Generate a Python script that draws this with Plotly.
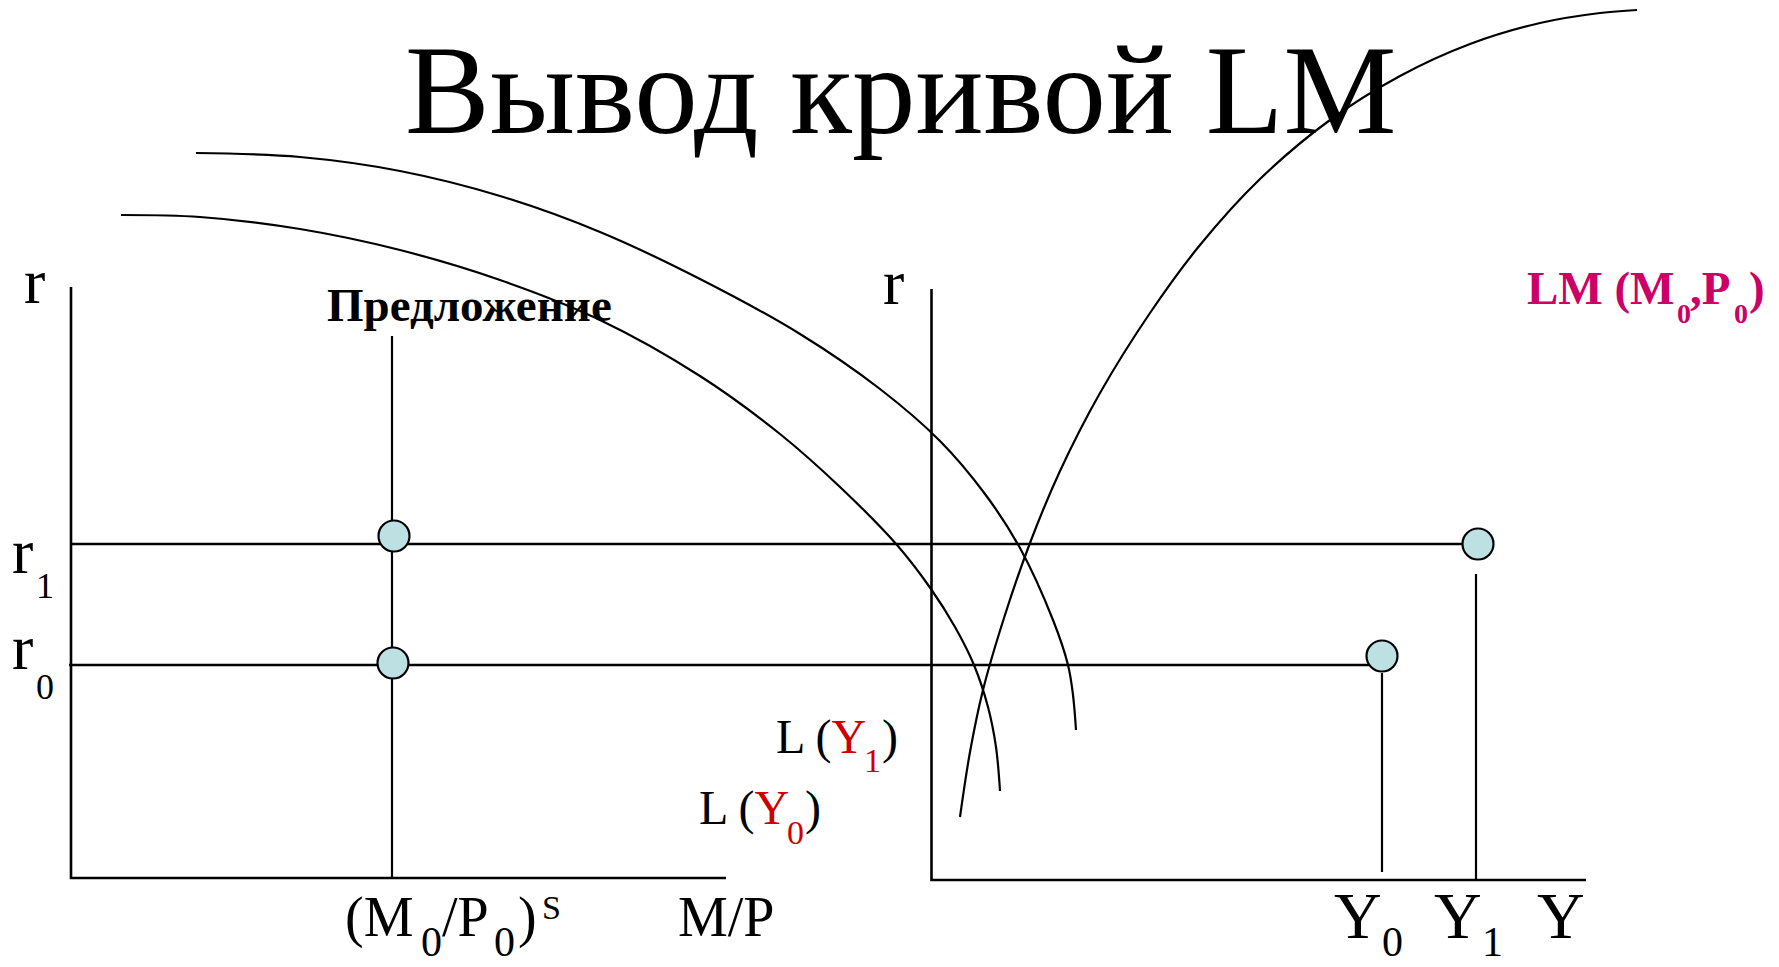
import plotly.graph_objects as go

W, H = 1779, 967
FONT = 'Liberation Serif'
OFF = 8  # page body margin, compensated in the axis ranges

# diagram units: x to the right, y downward (slide scale)
r1, r0 = 544, 665

# liquidity preference curves L(Y1), L(Y0) and the LM curve
ly1_x = [196, 300, 400, 500, 600, 700, 800, 880, 940, 985, 1020, 1053, 1068, 1073, 1076]
ly1_y = [153, 157, 171, 196, 232, 279, 334, 389, 441, 494, 548, 620, 665, 695, 730]

ly0_x = [121, 200, 300, 400, 500, 600, 700, 780, 840, 897, 931, 955, 974, 988, 996, 1000]
ly0_y = [215, 217, 229, 250, 280, 320, 376, 434, 487, 545, 589, 627, 665, 707, 747, 791]

lm_x = [960, 970, 983, 1004, 1030, 1060, 1100, 1150, 1200, 1260, 1330, 1400, 1470, 1540, 1600, 1637]
lm_y = [817, 752, 690, 618, 543, 471, 393, 313, 245, 179, 120, 76, 44, 23, 13, 10]

# axes of both panels
left_axis_x = [71, 71, 726]
left_axis_y = [287, 878, 878]
right_axis_x = [931.5, 931.5, 1586]
right_axis_y = [289, 880, 880]

supply_x = [392, 392]
supply_y = [336, 878]

y0_line_x = [1382, 1382]
y0_line_y = [673, 872]
y1_line_x = [1476, 1476]
y1_line_y = [574, 880]

r1_line_x = [71, 1470]
r0_line_x = [69, 1378]

# equilibrium points
pt_x = [394, 393, 1478, 1382]
pt_y = [536, 663, 544, 656]

fig = go.Figure()


def line(x, y, w=2.2, spline=False):
    fig.add_trace(go.Scatter(
        x=x, y=y, mode='lines', hoverinfo='skip',
        line=dict(color='black', width=w, shape='spline' if spline else 'linear', smoothing=1.0),
    ))


line(left_axis_x, left_axis_y, 2.6)
line(right_axis_x, right_axis_y, 2.6)
line(supply_x, supply_y, 2.2)
line(r1_line_x, [r1, r1], 2.6)
line(r0_line_x, [r0, r0], 2.6)
line(y0_line_x, y0_line_y, 2.2)
line(y1_line_x, y1_line_y, 2.2)
line(ly1_x, ly1_y, 2.2, spline=True)
line(ly0_x, ly0_y, 2.2, spline=True)
line(lm_x, lm_y, 2.2, spline=True)

fig.add_trace(go.Scatter(
    x=pt_x, y=pt_y, mode='markers', hoverinfo='skip',
    marker=dict(size=31, color='#BDE0E3', line=dict(color='black', width=2.2)),
))


def put(text, x, baseline, size, color='black', bold=False, anchor='left'):
    if bold:
        text = '<b>' + text + '</b>'
    fig.add_annotation(
        x=x, y=baseline - 0.32 * size, text=text, showarrow=False,
        xanchor=anchor, yanchor='middle', borderpad=0,
        font=dict(family=FONT, size=size, color=color),
    )


RED = '#CC0000'
MAG = '#CC0066'

put('Вывод кривой LM', 900, 131, 127, anchor='center')

# r labels
put('r', 34, 302, 64, anchor='center')
put('r', 893, 303, 64, anchor='center')
put('r', 22.5, 572, 64, anchor='center')
put('1', 44.5, 598, 36, anchor='center')
put('r', 22.5, 668, 64, anchor='center')
put('0', 44.5, 699, 36, anchor='center')

put('Предложение', 469, 320, 47, bold=True, anchor='center')

# (M0/P0)^S and M/P
put('(M', 344, 935, 56)
put('0', 431, 955, 42, anchor='center')
put('/P', 441, 935, 56)
put('0', 504, 955, 42, anchor='center')
put(')', 517, 935, 56)
put('S', 541, 918, 34)
put('M/P', 677, 935, 56)

# Y labels
put('Y', 1333, 937, 66)
put('0', 1392, 955, 42, anchor='center')
put('Y', 1433, 937, 66)
put('1', 1492, 955, 42, anchor='center')
put('Y', 1536, 937, 66)

# L(Y1), L(Y0)
put('L (<span style="color:%s">Y</span>' % RED, 775, 752, 48)
put('1', 872, 771, 34, color=RED, anchor='center')
put(')', 881, 752, 48)
put('L (<span style="color:%s">Y</span>' % RED, 698, 823, 48)
put('0', 795, 843, 34, color=RED, anchor='center')
put(')', 804, 823, 48)

# LM (M0,P0)
put('LM (M', 1526, 303, 47, color=MAG, bold=True)
put('0', 1676, 322, 28, color=MAG, bold=True)
put(',P', 1689, 303, 47, color=MAG, bold=True)
put('0', 1733, 322, 28, color=MAG, bold=True)
put(')', 1748, 303, 47, color=MAG, bold=True)

fig.update_layout(
    width=W, height=H,
    margin=dict(l=0, r=0, t=0, b=0),
    paper_bgcolor='white', plot_bgcolor='white',
    showlegend=False,
    xaxis=dict(range=[OFF, W + OFF], visible=False, fixedrange=True),
    yaxis=dict(range=[H + OFF, OFF], visible=False, fixedrange=True),
)

fig.write_html("out.html")
